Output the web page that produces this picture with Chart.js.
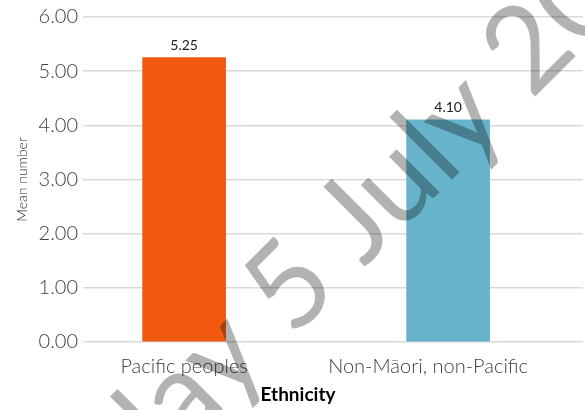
<!DOCTYPE html>
<html>
<head>
<meta charset="utf-8">
<script src="https://cdn.jsdelivr.net/npm/chart.js@4.4.1/dist/chart.umd.min.js"></script>
<style>
    html, body { margin: 0; padding: 0; background: #fff; }
    #wrap { width: 585px; height: 410px; }
</style>
</head>
<body>
<div id="wrap"><canvas id="meanChart"></canvas></div>
<script>
/* Data */
const categories = ["Pacific peoples", "Non-Māori, non-Pacific"];
const meanValues = [5.25, 4.10];
const barColours = ["#F15A0E", "#67B3CB"];
const yTicks = [0, 1, 2, 3, 4, 5, 6];
const xTitle = "Ethnicity";
const yTitle = "Mean number";
const watermark = "Embargoed until Friday 5 July 2024";

const FONT = "Lato, 'Open Sans', sans-serif";

/* Custom labels: values above bars, category labels, axis title, watermark */
const labelPlugin = {
    id: "labelPlugin",
    afterDatasetsDraw(chart) {
        const ctx = chart.ctx;
        const meta = chart.getDatasetMeta(0);
        const x = chart.scales.x;
        const area = chart.chartArea;

        ctx.save();
        // value labels
        ctx.fillStyle = "#222";
        ctx.font = "400 14px " + FONT;
        ctx.textAlign = "center";
        ctx.textBaseline = "bottom";
        meta.data.forEach((bar, i) => {
            ctx.fillText(meanValues[i].toFixed(2), bar.x, bar.y - 5);
        });

        // category labels
        const shift = [0, -20];
        ctx.fillStyle = "#404040";
        ctx.font = "300 20px " + FONT;
        ctx.textBaseline = "middle";
        categories.forEach((c, i) => {
            ctx.fillText(c, x.getPixelForValue(i + 1) + shift[i], area.bottom + 25);
        });

        // x title
        ctx.fillStyle = "#000";
        ctx.font = "bold 19px " + FONT;
        ctx.fillText(xTitle, 298, area.bottom + 53);

        // watermark
        ctx.translate(290, 287);
        ctx.rotate(-45 * Math.PI / 180);
        ctx.font = "400 120px " + FONT;
        ctx.fillStyle = "rgba(0,0,0,0.3)";
        ctx.textAlign = "left";
        ctx.textBaseline = "middle";
        const idx = watermark.indexOf("5");
        const pre = ctx.measureText(watermark.slice(0, idx)).width;
        const five = ctx.measureText("5").width;
        ctx.fillText(watermark, -pre - five / 2, 0);
        ctx.restore();
    }
};

document.addEventListener("DOMContentLoaded", () => {
    const el = document.getElementById("meanChart");
    new Chart(el, {
        type: "bar",
        data: {
            datasets: [{
                data: meanValues.map((v, i) => ({ x: i + 1, y: v })),
                backgroundColor: barColours,
                barThickness: 83,
            }]
        },
        options: {
            responsive: true,
            maintainAspectRatio: false,
            animation: false,
            layout: {
                padding: { top: 15, right: 2, left: 14, bottom: 0 }
            },
            plugins: {
                legend: { display: false },
                tooltip: { enabled: false }
            },
            scales: {
                x: {
                    type: "linear",
                    offset: false,
                    min: 0.617,
                    max: 2.511,
                    grid: { display: false, drawTicks: false },
                    border: { display: false },
                    ticks: { display: false },
                    afterFit: (scale) => { scale.height = 68; }
                },
                y: {
                    min: 0,
                    max: 6,
                    afterBuildTicks: (scale) => {
                        scale.ticks = yTicks.map(v => ({ value: v }));
                    },
                    ticks: {
                        color: "#404040",
                        font: { family: FONT, size: 20, weight: 300 },
                        padding: 5,
                        callback: (v) => Number(v).toFixed(2)
                    },
                    grid: {
                        color: "#d9d9d9",
                        lineWidth: 1.5,
                        drawTicks: false
                    },
                    border: { display: false },
                    title: {
                        display: true,
                        text: yTitle,
                        color: "#333",
                        font: { family: FONT, size: 14, weight: 300 },
                        padding: { top: 0, bottom: 0 }
                    },
                    afterFit: (scale) => { scale.width = 69; }
                }
            }
        },
        plugins: [labelPlugin]
    });
});
</script>
</body>
</html>
